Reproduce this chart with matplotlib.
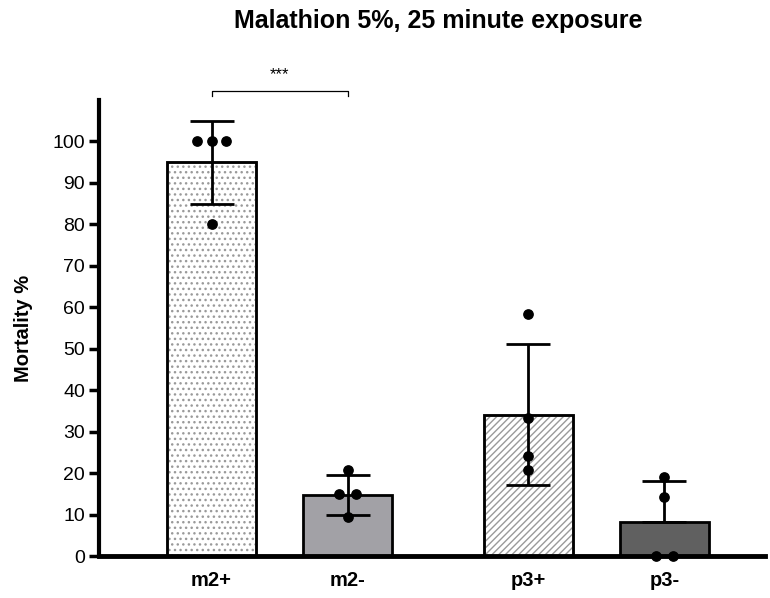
import matplotlib
matplotlib.use("Agg")
import matplotlib.pyplot as plt
import numpy as np

plt.rcParams['font.family'] = ['Liberation Sans', 'DejaVu Sans']
plt.rcParams['hatch.linewidth'] = 1.0

categories = ["m2+", "m2-", "p3+", "p3-"]
positions = [0, 1, 2.33, 3.33]
means = [95.0, 14.7, 34.1, 8.3]
sd_low = [10.0, 4.9, 16.9, 0.0]
sd_high = [10.0, 4.9, 17.1, 9.8]
points = [[100, 100, 100, 80], [20.8, 15.0, 15.0, 9.3], [58.3, 33.3, 24.1, 20.8], [19.0, 14.3, 0.0, 0.0]]
point_offsets = [[-0.11, 0.0, 0.11, 0.0], [0.0, -0.06, 0.06, 0.0], [0, 0, 0, 0], [0.0, 0.0, -0.06, 0.06]]
face_colors = ["white", "#a2a1a6", "white", "#606060"]
hatches = ["...", None, "/////", None]
yticks = list(range(0, 101, 10))

fig = plt.figure(figsize=(7.7, 5.98), dpi=100)
ax = fig.add_axes([0.1286, 0.0702, 0.865, 0.7626])

for i in range(len(categories)):
    b = ax.bar(positions[i], means[i], width=0.655, color=face_colors[i], edgecolor="black",
               linewidth=2, hatch=hatches[i], zorder=2)
    if hatches[i]:
        b.patches[0].set_edgecolor("#9a9a9a")
        ax.bar(positions[i], means[i], width=0.655, color="none", edgecolor="black", linewidth=2, zorder=2.5)
    ax.errorbar(positions[i], means[i], yerr=[[sd_low[i]], [sd_high[i]]], fmt="none", ecolor="black",
                elinewidth=2, capsize=16, capthick=2, zorder=3)
    ax.scatter(np.array(positions[i]) + np.array(point_offsets[i]), points[i], s=45, color="black",
               zorder=4, clip_on=False)

# significance bracket
yb = 112.2
ax.plot([positions[0], positions[0], positions[1], positions[1]], [yb - 1.2, yb, yb, yb - 1.2],
        color="black", lw=0.9, clip_on=False)
ax.text((positions[0] + positions[1]) / 2, yb + 2.0, "***", ha="center", va="bottom", fontsize=12)

ax.set_xlim(-0.827, 4.07)
ax.set_ylim(0, 110)
ax.set_yticks(yticks)
ax.set_xticks(positions)
ax.set_xticklabels(categories, fontweight="bold", fontsize=14.5)
ax.tick_params(axis="y", labelsize=14, width=2.5, length=7, direction="out", pad=3)
ax.tick_params(axis="x", length=0, pad=11)
for s in ["top", "right"]:
    ax.spines[s].set_visible(False)
ax.spines["left"].set_linewidth(3)
ax.spines["bottom"].set_linewidth(3.5)
ax.set_ylabel("Mortality %", fontweight="bold", fontsize=14.5, labelpad=14)
fig.suptitle("Malathion 5%, 25 minute exposure", fontweight="bold", fontsize=18, x=0.569, y=0.965,
             va="center", ha="center")

fig.savefig("out.png", dpi=100)
